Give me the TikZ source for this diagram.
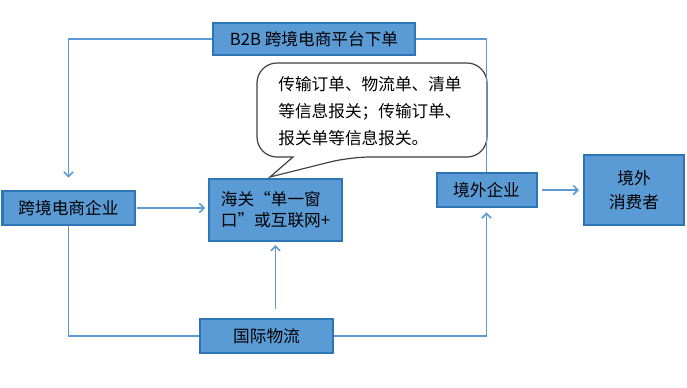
\documentclass[tikz,border=0pt]{standalone}
\usepackage{fontspec}
\setmainfont{Noto Sans CJK SC}
\usetikzlibrary{arrows.meta, positioning, calc}
\definecolor{boxblue}{RGB}{91,155,213}
\definecolor{edgeblue}{RGB}{46,117,182}
\definecolor{lineblue}{RGB}{91,155,213}
\tikzstyle{block} = [rectangle, draw=edgeblue, line width=1.5pt, fill=boxblue, text=black, font=\fontsize{12.5}{18}\selectfont, inner sep=2pt, align=center]
\tikzstyle{link} = [draw=lineblue, line width=1.2pt]
\tikzstyle{arrow} = [link, -{Straight Barb[length=3.5pt,width=7pt]}]
\tikzstyle{bubble} = [draw=black!75, line width=0.9pt, fill=white]
\begin{document}
\begin{tikzpicture}[x=0.75pt, y=-0.75pt]
\useasboundingbox (0,0) rectangle (687,387);

% Boxes
\node (b2b) [block, minimum width=152pt, minimum height=24pt] at (314,39) {B2B 跨境电商平台下单};
\node (firm) [block, minimum width=99pt, minimum height=26pt] at (68.5,208) {跨境电商企业};
\node (customs) [block, minimum width=100pt, minimum height=47pt, align=left, font=\fontsize{12.5}{16}\selectfont] at (275.5,210) {海关“单一窗\\口”或互联网+};
\node (abroad) [block, minimum width=75pt, minimum height=26pt] at (486.5,190) {境外企业};
\node (buyer) [block, minimum width=75pt, minimum height=52pt] at (634,190) {境外\\消费者};
\node (logistics) [block, minimum width=100pt, minimum height=25pt] at (266.5,336) {国际物流};

% Speech bubble
\draw [bubble] (293,157) [rounded corners=15] -- (257,157) -- (257,63) -- (487,63) -- (487,157) -- (350,157) [sharp corners] -- (270,177) -- cycle;
\node (note) [align=left, font=\fontsize{12.5}{20.5}\selectfont] at (370,111) {传输订单、物流单、清单\\等信息报关；传输订单、\\报关单等信息报关。};

% Connectors
\draw [arrow, shorten >=9pt] (b2b.west) -| (firm.north);
\draw [link] (b2b.east) -| (abroad.north);
\draw [arrow, shorten <=1pt, shorten >=2pt] (firm.east) -- (customs.west |- firm.east);
\draw [link] (firm.south) |- (logistics.west);
\draw [arrow, shorten <=7pt, shorten >=2pt] (logistics.north -| customs.south) -- (customs.south);
\draw [arrow, shorten >=3pt] (logistics.east) -| (abroad.south);
\draw [arrow, shorten <=3pt, shorten >=3pt] (abroad.east) -- (buyer.west |- abroad.east);

\end{tikzpicture}
\end{document}
